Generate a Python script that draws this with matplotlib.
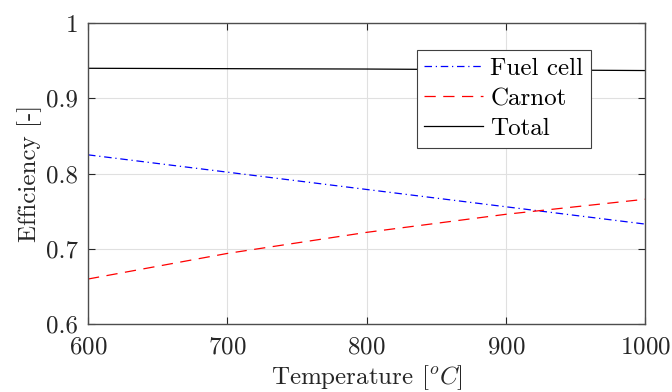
import numpy as np
import matplotlib
matplotlib.use('Agg')
import matplotlib.pyplot as plt

plt.rcParams['font.family'] = 'serif'
plt.rcParams['font.serif'] = ['cmr10', 'DejaVu Serif']
plt.rcParams['mathtext.fontset'] = 'cm'
plt.rcParams['axes.formatter.use_mathtext'] = True

# temperature [C] and efficiencies
T = [600, 700, 800, 900, 1000]
eta_fc = [0.825, 0.802, 0.779, 0.756, 0.733]
eta_carnot = [0.660, 0.694, 0.722, 0.746, 0.766]
eta_total = [0.940, 0.9395, 0.939, 0.938, 0.937]

fs = 18

fig = plt.figure(figsize=(6.72, 3.92), dpi=100)
ax = fig.add_axes([0.131, 0.173, 0.829, 0.768])

ax.plot(T, eta_fc, color='blue', ls='-.', lw=0.9, label='Fuel cell', dashes=[6, 3, 1, 3])
ax.plot(T, eta_carnot, color='red', ls='--', lw=0.9, label='Carnot', dashes=[9, 6])
ax.plot(T, eta_total, color='black', ls='-', lw=0.9, label='Total')

ax.set_xlim(600, 1000)
ax.set_ylim(0.6, 1.0)
ax.set_xticks([600, 700, 800, 900, 1000])
ax.set_yticks([0.6, 0.7, 0.8, 0.9, 1.0])
ax.set_yticklabels(['0.6', '0.7', '0.8', '0.9', '1'])
ax.grid(True, color='0.88', lw=0.8)
ax.set_axisbelow(True)
ax.tick_params(direction='in', top=True, right=True, length=5, width=0.8,
               colors='0.15', labelsize=fs, labelcolor='0.15')
ax.tick_params(axis='x', pad=9)
ax.tick_params(axis='y', pad=7)
for s in ax.spines.values():
    s.set_color('0.3')
    s.set_linewidth(1.0)

ax.set_xlabel('Temperature [$^oC$]', fontsize=fs, color='0.15', labelpad=3)
ax.set_ylabel('Efficiency [-]', fontsize=fs, color='0.15', labelpad=3)

leg = ax.legend(loc='upper right', bbox_to_anchor=(0.903, 0.91), fontsize=fs,
                fancybox=False, framealpha=1, edgecolor='0.25',
                handlelength=2.35, handletextpad=0.3, borderpad=0.3,
                labelspacing=0.3, borderaxespad=0)
leg.get_frame().set_linewidth(0.8)

fig.savefig('out.png', dpi=100)
